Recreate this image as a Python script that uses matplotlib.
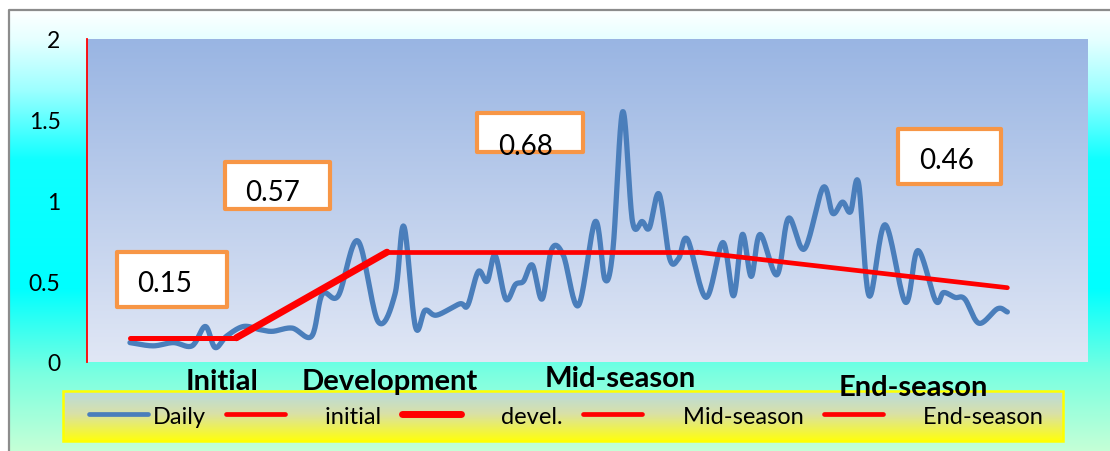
import numpy as np
import matplotlib
matplotlib.use("Agg")
import matplotlib.pyplot as plt
from matplotlib.lines import Line2D
from matplotlib.patches import Rectangle
import matplotlib.transforms as mtransforms

plt.rcParams['font.family'] = ['Lato', 'DejaVu Sans']

# daily Kc readings (day of season, Kc)
daily_day = [1, 3.6, 5.9, 8.0, 9.5, 10.6, 11.9, 13.8, 15.7, 17.1, 19.3, 21.5, 22.7, 24.5,
             26.7, 29.0, 30.9, 31.9, 33.2, 34.3, 35.6, 38.2, 39.1, 40.3, 41.3, 42.2, 43.4,
             44.5, 45.4, 46.4, 47.5, 48.6, 49.9, 51.6, 53.5, 54.6, 55.5, 56.6, 57.7, 58.8,
             59.6, 60.7, 61.9, 62.9, 63.9, 66.0, 67.9, 69.1, 70.1, 71.1, 72.1, 74.0, 75.3,
             77.1, 79.2, 80.3, 81.4, 82.3, 83.2, 84.4, 86.2, 88.5, 89.9, 91.9, 92.8, 94.1,
             95.2, 96.8, 98.9, 100]
daily_kc = [0.12, 0.10, 0.12, 0.10, 0.22, 0.09, 0.16, 0.22, 0.20, 0.19, 0.21, 0.16, 0.42, 0.41,
            0.75, 0.25, 0.42, 0.84, 0.22, 0.32, 0.29, 0.36, 0.35, 0.56, 0.50, 0.66, 0.39,
            0.48, 0.50, 0.60, 0.39, 0.70, 0.66, 0.35, 0.87, 0.51, 0.70, 1.55, 0.87, 0.87,
            0.83, 1.04, 0.64, 0.64, 0.76, 0.40, 0.74, 0.41, 0.79, 0.53, 0.79, 0.54, 0.89,
            0.70, 1.08, 0.92, 0.99, 0.93, 1.11, 0.41, 0.85, 0.37, 0.69, 0.38, 0.43, 0.40,
            0.39, 0.24, 0.33, 0.31]

# FAO-style stage Kc curve
initial_day, initial_kc = [1, 13], [0.15, 0.15]
devel_day, devel_kc = [13, 30], [0.15, 0.68]
mid_day, mid_kc = [30, 65], [0.68, 0.68]
end_day, end_kc = [65, 100], [0.68, 0.46]

stage_names = ['Initial', 'Development', 'Mid-season', 'End-season']
stage_label_x = [11.4, 30.3, 56.3, 89.4]
stage_label_y = [-0.058, -0.058, -0.05, -0.077]

box_values = ['0.15', '0.57', '0.68', '0.46']
# box left, bottom, width, height (data units) and text anchor
box_rect = [(-0.5, 0.34, 12.5, 0.34), (11.7, 0.95, 11.9, 0.29),
            (40.2, 1.30, 11.9, 0.24), (87.7, 1.10, 11.6, 0.34)]
box_text = [(1.8, 0.49), (14.0, 1.05), (42.5, 1.34), (90.0, 1.25)]

yticks = [0, 0.5, 1, 1.5, 2]
ytick_labels = ['0', '0.5', '1', '1.5', '2']


def catmull_rom(x, y, n=20):
    # smoothed line through the points, like a spreadsheet "smoothed line"
    x = np.asarray(x, float)
    y = np.asarray(y, float)
    px = np.concatenate([[2 * x[0] - x[1]], x, [2 * x[-1] - x[-2]]])
    py = np.concatenate([[2 * y[0] - y[1]], y, [2 * y[-1] - y[-2]]])
    t = np.linspace(0, 1, n, endpoint=False)[:, None]
    xs, ys = [], []
    for i in range(1, len(px) - 2):
        for p, out in ((px, xs), (py, ys)):
            p0, p1, p2, p3 = p[i - 1], p[i], p[i + 1], p[i + 2]
            seg = 0.5 * (2 * p1 + (-p0 + p2) * t + (2 * p0 - 5 * p1 + 4 * p2 - p3) * t ** 2
                         + (-p0 + 3 * p1 - 3 * p2 + p3) * t ** 3)
            out.append(seg.ravel())
    xs.append([x[-1]])
    ys.append([y[-1]])
    return np.concatenate(xs), np.concatenate(ys)


W, H = 1110, 452
fig = plt.figure(figsize=(W / 100, H / 100), dpi=100)
fig.patch.set_facecolor('white')

# background layer: outer gradient, plot-area gradient, legend panel
bg = fig.add_axes([0, 0, 1, 1], zorder=-10)
bg.axis('off')


def vgrad(stops, n=256):
    pos = np.array([s[0] for s in stops], float)
    cols = np.array([s[1] for s in stops], float)
    yy = np.linspace(pos[0], pos[-1], n)
    img = np.stack([np.interp(yy, pos, cols[:, k]) for k in range(3)], axis=-1)
    return img[:, None, :]


outer = vgrad([(10, (1.0, 1.0, 1.0)), (40, (0.90, 1.0, 1.0)), (90, (0.62, 1.0, 1.0)),
               (160, (0.06, 1.0, 1.0)), (290, (0.0, 1.0, 1.0)), (375, (0.48, 1.0, 0.88)),
               (452, (0.77, 1.0, 0.84))])
bg.imshow(outer, extent=[8, W, H, 10], aspect='auto', interpolation='bilinear')
bg.plot([8.5, 8.5, W], [H, 10.5, 10.5], color='#8c8c8c', lw=1.6)

plot_bg = vgrad([(0, (0.60, 0.71, 0.89)), (1, (0.88, 0.905, 0.96))])
bg.imshow(plot_bg, extent=[87, 1088, 363, 40], aspect='auto', interpolation='bilinear')

leg_bg = vgrad([(0, (0.72, 0.86, 0.87)), (0.45, (0.85, 0.88, 0.66)), (1, (1.0, 1.0, 0.05))])
bg.imshow(leg_bg, extent=[63, 1063, 442, 392], aspect='auto', interpolation='bilinear')
bg.add_patch(Rectangle((63, 392), 1000, 50, fill=False, ec='#ffff00', lw=1.8))
bg.set_xlim(0, W)
bg.set_ylim(H, 0)

ax = fig.add_axes([87 / W, 1 - 363 / H, 1001 / W, 323 / H])
ax.set_facecolor('none')

sx, sy = catmull_rom(daily_day, daily_kc)
ax.plot(sx, sy, color='#4a7ebb', lw=3.8, solid_capstyle='round', solid_joinstyle='round', zorder=3)
ax.plot(initial_day, initial_kc, color='red', lw=3.6, solid_capstyle='round', zorder=4)
ax.plot(devel_day, devel_kc, color='red', lw=5.0, solid_capstyle='round', zorder=4)
ax.plot(mid_day, mid_kc, color='red', lw=3.4, solid_capstyle='round', zorder=4)
ax.plot(end_day, end_kc, color='red', lw=3.4, solid_capstyle='round', zorder=4)

for (x0, y0, w, h), (tx, ty), s in zip(box_rect, box_text, box_values):
    ax.add_patch(Rectangle((x0, y0), w, h, facecolor='white', edgecolor='#f79646',
                           lw=3.0, joinstyle='round', zorder=5))
    ax.text(tx, ty, s, fontsize=20, ha='left', va='center', color='black', zorder=6)

ax.set_xlim(-3.85, 109.1)
ax.set_ylim(0, 2)
ax.set_yticks(yticks)
ax.set_yticklabels(ytick_labels, fontsize=16.5)
ax.set_xticks([])
ax.tick_params(axis='y', length=0, pad=19)
for side in ['top', 'right', 'bottom']:
    ax.spines[side].set_visible(False)
ax.spines['left'].set_color('red')
ax.spines['left'].set_linewidth(1.3)

trans = mtransforms.blended_transform_factory(ax.transData, ax.transAxes)
for name, lx, ly in zip(stage_names, stage_label_x, stage_label_y):
    ax.text(lx, ly, name, transform=trans, fontsize=21, fontweight='bold',
            ha='center', va='center', clip_on=False, zorder=10)

handles = [Line2D([], [], color='#4a7ebb', lw=3.4, solid_capstyle='round'),
           Line2D([], [], color='red', lw=3.4, solid_capstyle='round'),
           Line2D([], [], color='red', lw=5.0, solid_capstyle='round'),
           Line2D([], [], color='red', lw=3.4, solid_capstyle='round'),
           Line2D([], [], color='red', lw=3.4, solid_capstyle='round')]
labels = ['Daily', '      initial', '      devel.', '      Mid-season', '      End-season']
fig.legend(handles, labels, loc='center', bbox_to_anchor=(566 / W, 1 - 417 / H),
           ncol=5, frameon=False, fontsize=17, handlelength=2.5, handletextpad=0.2,
           columnspacing=0.85)

fig.savefig('out.png', dpi=100)
